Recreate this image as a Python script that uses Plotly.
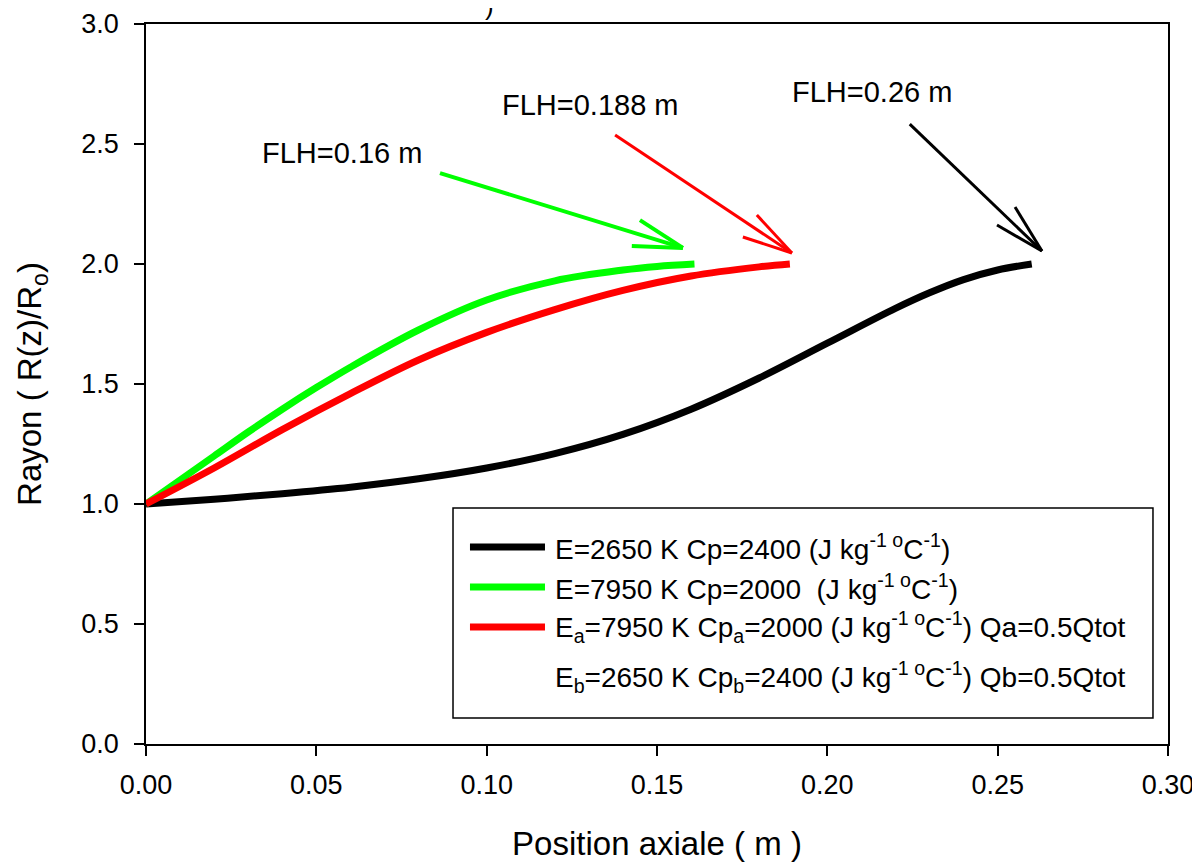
import plotly.graph_objects as go

# ---- data ----
black_x = [0, 0.02, 0.04, 0.06, 0.08, 0.10, 0.12, 0.14, 0.16, 0.18, 0.20, 0.22, 0.23, 0.24, 0.25, 0.26]
black_y = [1.0, 1.02, 1.043, 1.07, 1.105, 1.15, 1.21, 1.29, 1.395, 1.525, 1.67, 1.815, 1.88, 1.935, 1.975, 2.0]

green_x = [0, 0.01, 0.02, 0.03, 0.04, 0.05, 0.06, 0.08, 0.10, 0.12, 0.14, 0.15, 0.161]
green_y = [1.0, 1.10, 1.20, 1.30, 1.395, 1.485, 1.57, 1.725, 1.85, 1.93, 1.975, 1.99, 2.0]

red_x = [0, 0.02, 0.04, 0.06, 0.08, 0.10, 0.12, 0.14, 0.16, 0.18, 0.189]
red_y = [1.0, 1.15, 1.31, 1.46, 1.60, 1.715, 1.81, 1.89, 1.95, 1.988, 2.0]

x_ticks = [0.00, 0.05, 0.10, 0.15, 0.20, 0.25, 0.30]
y_ticks = [0.0, 0.5, 1.0, 1.5, 2.0, 2.5, 3.0]

legend_labels = [
    "E=2650 K Cp=2400 (J kg<sup>-1 o</sup>C<sup>-1</sup>)",
    "E=7950 K Cp=2000  (J kg<sup>-1 o</sup>C<sup>-1</sup>)",
    "E<sub>a</sub>=7950 K Cp<sub>a</sub>=2000 (J kg<sup>-1 o</sup>C<sup>-1</sup>) Qa=0.5Qtot",
    "E<sub>b</sub>=2650 K Cp<sub>b</sub>=2400 (J kg<sup>-1 o</sup>C<sup>-1</sup>) Qb=0.5Qtot",
]
legend_colors = ["#000000", "#00FF00", "#FF0000", None]

flh_labels = ["FLH=0.16 m", "FLH=0.188 m", "FLH=0.26 m"]
flh_label_pos = [(0.0575, 2.4625), (0.1306, 2.6625), (0.2131, 2.7167)]
# arrows: tail, tip, barb1, barb2 (data coords)
arrows = [
    ((0.0863, 2.379), (0.1576, 2.067), (0.1450, 2.183), (0.1426, 2.075), "#00FF00", 4),
    ((0.1377, 2.5375), (0.1896, 2.046), (0.1793, 2.204), (0.1752, 2.1125), "#FF0000", 3),
    ((0.2242, 2.583), (0.2630, 2.054), (0.2551, 2.2375), (0.2498, 2.1625), "#000000", 3),
]

FONT = "Liberation Sans, Arial, sans-serif"

fig = go.Figure()
for xs, ys, col in [(black_x, black_y, "#000000"), (green_x, green_y, "#00FF00"), (red_x, red_y, "#FF0000")]:
    fig.add_trace(go.Scatter(x=xs, y=ys, mode="lines", line=dict(color=col, width=7, shape="spline", smoothing=1.0),
                             showlegend=False, hoverinfo="skip"))

shapes = []
annotations = []
for tail, tip, b1, b2, col, w in arrows:
    for p in (tail, b1, b2):
        shapes.append(dict(type="line", xref="x", yref="y", x0=p[0], y0=p[1], x1=tip[0], y1=tip[1],
                           line=dict(color=col, width=w)))
for txt, (px, py) in zip(flh_labels, flh_label_pos):
    annotations.append(dict(x=px, y=py, xref="x", yref="y", text=txt, showarrow=False,
                            font=dict(family=FONT, size=29, color="black")))

# legend box drawn manually
shapes.append(dict(type="rect", xref="paper", yref="paper", x0=0.3004, x1=0.9853, y0=0.0361, y1=0.3278,
                   line=dict(color="black", width=1.5), fillcolor="rgba(0,0,0,0)"))
row_y = [0.2736, 0.2181, 0.1625, 0.0931]
for lab, col, ry in zip(legend_labels, legend_colors, row_y):
    if col:
        shapes.append(dict(type="line", xref="paper", yref="paper", x0=0.317, x1=0.3904, y0=ry, y1=ry,
                           line=dict(color=col, width=7)))
    annotations.append(dict(x=0.3982, y=ry, xref="paper", yref="paper", text=lab, showarrow=False,
                            xanchor="left", yanchor="middle", font=dict(family=FONT, size=28, color="black")))

# cut-off fragment at the very top of the reference
annotations.append(dict(x=0.33, y=1.0, xref="paper", yref="paper", text=")", showarrow=False,
                        yanchor="middle", yshift=18, font=dict(family=FONT, size=26, color="black")))

fig.update_layout(
    width=1200, height=864,
    margin=dict(l=138, r=40, t=16, b=128),
    paper_bgcolor="white", plot_bgcolor="white",
    shapes=shapes, annotations=annotations,
    font=dict(family=FONT, color="black"),
)
fig.update_xaxes(range=[0, 0.30], tickvals=x_ticks, ticktext=[f"{v:.2f}" for v in x_ticks],
                 automargin=False,
                 showgrid=False, zeroline=False, showline=True, linecolor="black", linewidth=1.5,
                 mirror=True, ticks="outside", ticklen=10, tickwidth=1.5, tickcolor="black",
                 ticklabelstandoff=6,
                 tickfont=dict(size=27, family=FONT),
                 title=dict(text="Position axiale ( m )", font=dict(size=33, family=FONT), standoff=33))
fig.update_yaxes(range=[0, 3.0], tickvals=y_ticks, ticktext=[f"{v:.1f}" for v in y_ticks],
                 automargin=False,
                 showgrid=False, zeroline=False, showline=True, linecolor="black", linewidth=1.5,
                 mirror=True, ticks="outside", ticklen=10, tickwidth=1.5, tickcolor="black",
                 ticklabelstandoff=10,
                 tickfont=dict(size=27, family=FONT),
                 title=dict(text="Rayon ( R(z)/R<sub>o</sub>)", font=dict(size=33, family=FONT), standoff=30))

fig.write_html("out.html")
